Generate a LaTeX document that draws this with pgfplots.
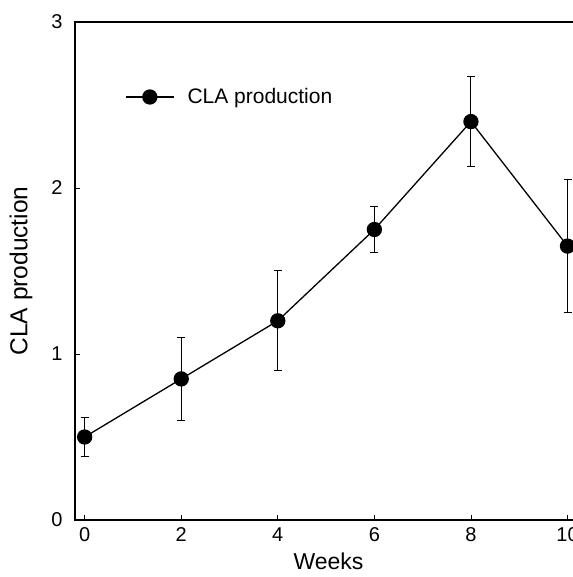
\documentclass[border=0pt]{standalone}
\usepackage{pgfplots}
\pgfplotsset{compat=1.18}
\usepackage{fontspec}
\setmainfont{Liberation Sans}
\begin{document}
\begin{tikzpicture}
\begin{axis}[
  scale only axis,
  width=507pt, height=498pt,
  xmin=-0.2, xmax=10.3,
  ymin=0, ymax=3,
  xtick={0,2,4,6,8,10},
  ytick={0,1,2,3},
  tick align=inside,
  xtick pos=bottom, ytick pos=left,
  major tick length=5pt,
  axis line style={line width=1.1pt},
  tick style={line width=0.9pt, black},
  /pgf/number format/assume math mode=true,
  ticklabel style={font=\fontsize{20}{24}\selectfont},
  xticklabel style={yshift=-4pt},
  yticklabel style={xshift=-9pt},
  xlabel={Weeks},
  ylabel={CLA production},
  xlabel style={font=\fontsize{23}{26}\selectfont, yshift=-4pt},
  ylabel style={font=\fontsize{24.5}{28}\selectfont, yshift=12pt},
  legend style={draw=none, fill=none, at={(50pt,423pt)}, anchor=west, inner sep=0pt,
    font=\fontsize{21}{24}\selectfont, nodes={inner sep=4pt}},
  legend cell align=left,
  legend image code/.code={\draw[#1, mark repeat=2, mark phase=2] plot coordinates {(0pt,0pt)(24pt,0pt)(48pt,0pt)};},
  clip=false,
]
\addplot[black, line width=1.3pt, mark=*, mark size=7pt,
  error bars/.cd, y dir=both, y explicit,
  error bar style={line width=1pt, black},
  error mark options={rotate=90, mark size=4pt, line width=1pt}]
coordinates {
  (0,0.50) +- (0,0.12)
  (2,0.85) +- (0,0.25)
  (4,1.20) +- (0,0.30)
  (6,1.75) +- (0,0.14)
  (8,2.40) +- (0,0.27)
  (10,1.65) +- (0,0.40)
};
\addlegendentry{\hspace{9pt}CLA production}
\coordinate (BL) at (axis cs:-0.2,0);
\coordinate (TR) at (axis cs:10.1,3);
\end{axis}
\pgfresetboundingbox
\path[use as bounding box] ([xshift=-75pt,yshift=-57pt]BL) rectangle ([yshift=22pt]TR);
\end{tikzpicture}
\end{document}
